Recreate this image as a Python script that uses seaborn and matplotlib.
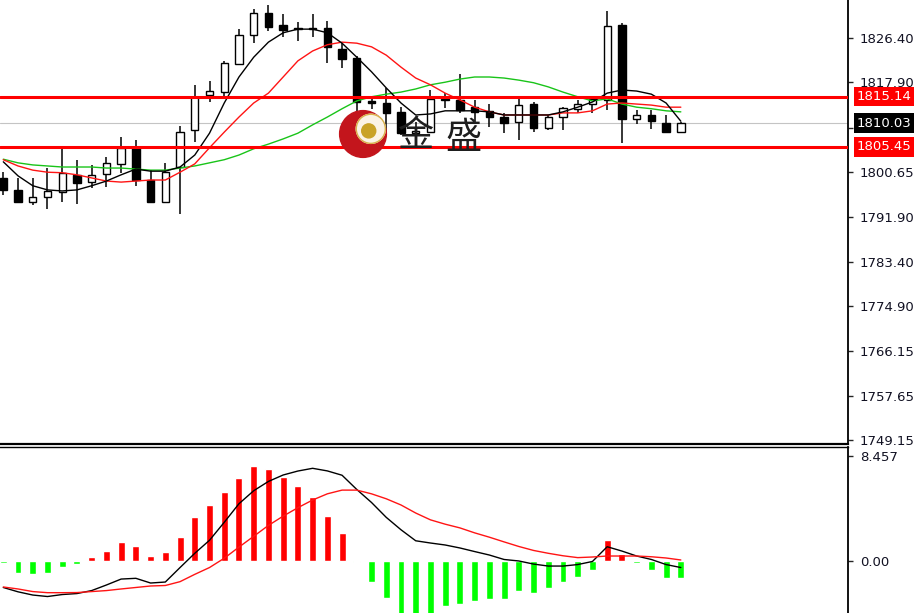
import numpy as np
import matplotlib
matplotlib.use("Agg")
import matplotlib.pyplot as plt
from matplotlib.patches import Circle
import seaborn as sns

# Candles (47 bars)
opens = [1799.5, 1797.2, 1794.9, 1795.8, 1796.8, 1800.1, 1798.7, 1800.3, 1802.2, 1805.4,
         1799.1, 1794.9, 1801.6, 1808.7, 1815.4, 1816.0, 1821.4, 1827.0, 1831.2, 1828.9,
         1828.3, 1828.1, 1828.3, 1824.3, 1822.5, 1814.3, 1813.9, 1812.2, 1808.1, 1808.3,
         1814.5, 1814.5, 1813.1, 1812.4, 1811.2, 1810.3, 1813.7, 1809.1, 1811.2, 1812.8,
         1813.7, 1814.5, 1828.9, 1810.8, 1811.6, 1810.1, 1808.4]
highs = [1800.6, 1799.5, 1799.5, 1801.4, 1805.1, 1803.0, 1802.0, 1803.5, 1807.4, 1806.8,
         1801.0, 1802.4, 1809.5, 1817.4, 1818.1, 1822.0, 1828.1, 1832.0, 1832.7, 1831.0,
         1829.5, 1831.0, 1829.7, 1825.4, 1822.9, 1814.7, 1816.8, 1813.1, 1810.3, 1816.4,
         1815.8, 1819.5, 1814.5, 1813.7, 1812.0, 1814.7, 1814.1, 1811.6, 1813.1, 1814.5,
         1815.1, 1831.6, 1829.3, 1812.6, 1812.6, 1811.6, 1810.3]
lows = [1796.2, 1794.7, 1794.3, 1793.5, 1794.9, 1794.5, 1797.6, 1797.8, 1800.5, 1798.0,
        1794.7, 1794.7, 1792.6, 1806.4, 1814.1, 1814.9, 1821.2, 1825.4, 1827.7, 1826.6,
        1825.8, 1826.6, 1821.6, 1820.6, 1812.2, 1812.7, 1808.3, 1807.8, 1806.8, 1808.3,
        1812.9, 1812.0, 1810.3, 1809.3, 1808.1, 1806.8, 1808.3, 1808.7, 1808.7, 1812.0,
        1812.0, 1812.6, 1806.2, 1809.9, 1808.9, 1808.3, 1808.1]
closes = [1797.2, 1794.9, 1795.8, 1797.0, 1800.5, 1798.5, 1800.1, 1802.4, 1805.3, 1799.1,
          1794.9, 1800.6, 1808.3, 1815.1, 1816.2, 1821.6, 1827.0, 1831.2, 1828.5, 1827.9,
          1828.1, 1828.4, 1824.7, 1822.4, 1814.1, 1813.9, 1812.0, 1808.1, 1808.5, 1814.7,
          1814.7, 1812.6, 1812.2, 1811.2, 1810.1, 1813.5, 1809.1, 1811.2, 1812.9, 1813.7,
          1814.7, 1828.7, 1810.8, 1811.6, 1810.4, 1808.4, 1810.03]

# Moving averages
ma_black = [1802.6, 1799.9, 1798.0, 1797.2, 1797.0, 1797.2, 1798.0, 1798.9, 1800.1, 1801.2,
            1800.8, 1800.8, 1801.6, 1803.9, 1808.1, 1813.9, 1818.9, 1822.7, 1825.6, 1827.4,
            1828.1, 1828.1, 1827.4, 1825.4, 1822.7, 1819.9, 1816.8, 1813.9, 1811.6, 1811.8,
            1812.4, 1812.4, 1812.4, 1812.2, 1811.6, 1811.6, 1811.6, 1811.6, 1812.2, 1813.1,
            1814.1, 1815.8, 1816.4, 1816.2, 1815.6, 1813.9, 1810.4]
ma_red = [1803.0, 1801.8, 1801.0, 1800.6, 1800.5, 1800.1, 1799.5, 1798.9, 1798.7, 1798.9,
          1799.1, 1799.1, 1800.6, 1802.2, 1805.3, 1808.3, 1811.2, 1813.9, 1815.8, 1818.9,
          1822.0, 1823.9, 1825.1, 1825.6, 1825.4, 1824.7, 1823.1, 1820.8, 1818.7, 1817.4,
          1815.8, 1814.5, 1813.1, 1812.2, 1811.6, 1811.6, 1811.6, 1811.6, 1812.0, 1812.0,
          1812.4, 1813.7, 1813.9, 1813.7, 1813.5, 1813.1, 1813.1]
ma_green = [1803.1, 1802.4, 1802.0, 1801.8, 1801.6, 1801.6, 1801.6, 1801.4, 1801.4, 1801.2,
            1801.0, 1801.0, 1801.4, 1801.8, 1802.4, 1803.0, 1803.9, 1805.1, 1806.0, 1807.0,
            1808.1, 1809.7, 1811.2, 1812.8, 1814.3, 1815.1, 1815.6, 1816.0, 1816.6, 1817.4,
            1817.9, 1818.5, 1818.9, 1818.9, 1818.7, 1818.3, 1817.8, 1817.0, 1816.0, 1815.1,
            1814.3, 1814.7, 1813.7, 1813.1, 1812.8, 1812.4, 1812.2]

# MACD panel
macd_hist = [-0.20, -0.97, -1.07, -1.02, -0.53, -0.27, 0.27, 0.78, 1.53, 1.21,
             0.38, 0.68, 1.89, 3.50, 4.49, 5.57, 6.65, 7.67, 7.40, 6.78,
             6.03, 5.12, 3.61, 2.21, -0.14, -1.72, -3.03, -4.60, -4.90, -4.60,
             -3.68, -3.48, -3.27, -3.11, -3.11, -2.48, -2.58, -2.22, -1.69, -1.29,
             -0.72, 1.68, 0.56, -0.15, -0.72, -1.37, -1.37]
macd_line = [-2.16, -2.51, -2.77, -2.89, -2.73, -2.65, -2.41, -1.96, -1.48, -1.42,
             -1.80, -1.72, -0.55, 0.60, 1.65, 3.10, 4.60, 5.65, 6.40, 6.92,
             7.24, 7.46, 7.25, 6.90, 5.75, 4.70, 3.50, 2.50, 1.61, 1.43,
             1.27, 1.03, 0.74, 0.46, 0.10, -0.02, -0.27, -0.43, -0.43, -0.31,
             -0.06, 1.13, 0.78, 0.38, 0.10, -0.31, -0.55]
signal_line = [-2.12, -2.28, -2.49, -2.58, -2.58, -2.57, -2.49, -2.41, -2.28, -2.16,
               -2.04, -2.00, -1.69, -1.10, -0.55, 0.20, 1.10, 1.97, 2.85, 3.60,
               4.28, 4.90, 5.40, 5.70, 5.70, 5.40, 5.00, 4.50, 3.85, 3.30,
               2.95, 2.65, 2.25, 1.90, 1.52, 1.15, 0.83, 0.60, 0.40, 0.25,
               0.30, 0.38, 0.38, 0.38, 0.32, 0.22, 0.06]

# axis labels (1809.15 sits under the last-price box, so its text is hidden)
price_ticks = [1826.40, 1817.90, 1809.15, 1800.65, 1791.90, 1783.40, 1774.90, 1766.15, 1757.65, 1749.15]
price_tick_labels = ["1826.40", "1817.90", "", "1800.65", "1791.90", "1783.40",
                     "1774.90", "1766.15", "1757.65", "1749.15"]
level_high = 1815.14
level_low = 1805.45
last_price = 1810.03
macd_ticks = [8.457, 0.0]
macd_tick_labels = ["8.457", "0.00"]

FS = 9.5


def draw_chart():
    sns.set_style("white")
    plt.rcParams["font.family"] = ["DejaVu Sans"]

    W, H = 914, 613
    fig = plt.figure(figsize=(W / 100, H / 100), dpi=100)
    ax = fig.add_axes([0, 169 / H, 848 / W, 444 / H])
    ax2 = fig.add_axes([0, 0, 848 / W, 166 / H])

    idx = np.arange(len(closes))
    o = np.array(opens)
    c = np.array(closes)
    up = c >= o
    faces = np.where(up, "white", "black")

    # candles
    ax.vlines(idx, lows, highs, color="black", lw=1.1, zorder=2)
    ax.bar(idx, np.maximum(np.abs(c - o), 0.12), bottom=np.minimum(o, c), width=0.5,
           color=faces, edgecolor="black", linewidth=1, zorder=3)

    # moving averages
    sns.lineplot(x=idx, y=ma_green, ax=ax, color="#19c419", lw=1, zorder=4)
    sns.lineplot(x=idx, y=ma_red, ax=ax, color="#ff1414", lw=1, zorder=4)
    sns.lineplot(x=idx, y=ma_black, ax=ax, color="black", lw=1, zorder=4)

    # levels
    ax.axhline(last_price, color="#c4c4c4", lw=0.8, zorder=1)
    ax.axhline(level_high, color="#ff0000", lw=2.2, zorder=5)
    ax.axhline(level_low, color="#ff0000", lw=2.2, zorder=5)

    ax.set_xlim(-0.224, 57.35)
    ax.set_ylim(1748.36, 1833.70)
    ax.set_xticks([])
    ax.yaxis.tick_right()
    ax.set_yticks(price_ticks)
    ax.set_yticklabels(price_tick_labels)
    ax.tick_params(axis="y", direction="out", length=3.5, width=1, pad=5,
                   labelsize=FS, labelcolor="#111122")
    for side in ["top", "left"]:
        ax.spines[side].set_visible(False)
    ax.spines["right"].set_linewidth(1.3)
    ax.spines["bottom"].set_linewidth(1.6)
    ax.spines["right"].set_color("black")
    ax.spines["bottom"].set_color("black")
    ax.set_xlabel("")
    ax.set_ylabel("")

    # price boxes on the axis
    tr = ax.get_yaxis_transform()
    for val, col in [(level_high, "#ff0000"), (last_price, "black"), (level_low, "#ff0000")]:
        ax.text(1 + 9 / 848, val, "%.2f" % val, transform=tr, ha="left", va="center",
                color="white", fontsize=FS, clip_on=False, zorder=10,
                bbox=dict(boxstyle="square,pad=0.25", fc=col, ec="none"))

    # MACD panel
    hist_colors = ["#ff0000" if h > 0 else "#00ff00" for h in macd_hist]
    ax2.bar(idx, macd_hist, width=0.47, color=hist_colors, zorder=2)
    sns.lineplot(x=idx, y=macd_line, ax=ax2, color="black", lw=1, zorder=3)
    sns.lineplot(x=idx, y=signal_line, ax=ax2, color="#ff1414", lw=1, zorder=3)
    ax2.set_xlim(-0.224, 57.35)
    ax2.set_ylim(-4.22, 9.18)
    ax2.set_xticks([])
    ax2.yaxis.tick_right()
    ax2.set_yticks(macd_ticks)
    ax2.set_yticklabels(macd_tick_labels)
    ax2.tick_params(axis="y", direction="out", length=3.5, width=1, pad=5,
                    labelsize=FS, labelcolor="#111122")
    for side in ["bottom", "left"]:
        ax2.spines[side].set_visible(False)
    ax2.spines["right"].set_linewidth(1.3)
    ax2.spines["top"].set_linewidth(1.0)
    ax2.spines["right"].set_color("black")
    ax2.spines["top"].set_color("black")
    ax2.set_xlabel("")
    ax2.set_ylabel("")

    # watermark logo
    lx, ly, r = 363, 134, 26
    logo = fig.add_axes([(lx - r) / W, (H - ly - r) / H, 2 * r / W, 2 * r / H], zorder=6)
    logo.set_xlim(-1, 1)
    logo.set_ylim(-1, 1)
    logo.axis("off")
    logo.patch.set_alpha(0)
    logo.add_patch(Circle((0, 0), 0.9, color="#c3151c"))
    logo.add_patch(Circle((0.3, 0.2), 0.56, color="#fbf3e6"))
    logo.add_patch(Circle((0.3, 0.2), 0.56, fill=False, ec="#d8b04a", lw=1))
    logo.add_patch(Circle((0.22, 0.12), 0.27, color="#c9a227"))
    fig.text(416 / W, 1 - 136 / H, "金", fontsize=26, family=["Noto Sans CJK SC"],
             ha="center", va="center", color="#1e1e1e", zorder=7)
    fig.text(463 / W, 1 - 138 / H, "盛", fontsize=26, family=["Noto Sans CJK SC"],
             ha="center", va="center", color="#1e1e1e", zorder=7)

    fig.savefig("out.png", dpi=100)


if __name__ == "__main__":
    draw_chart()
